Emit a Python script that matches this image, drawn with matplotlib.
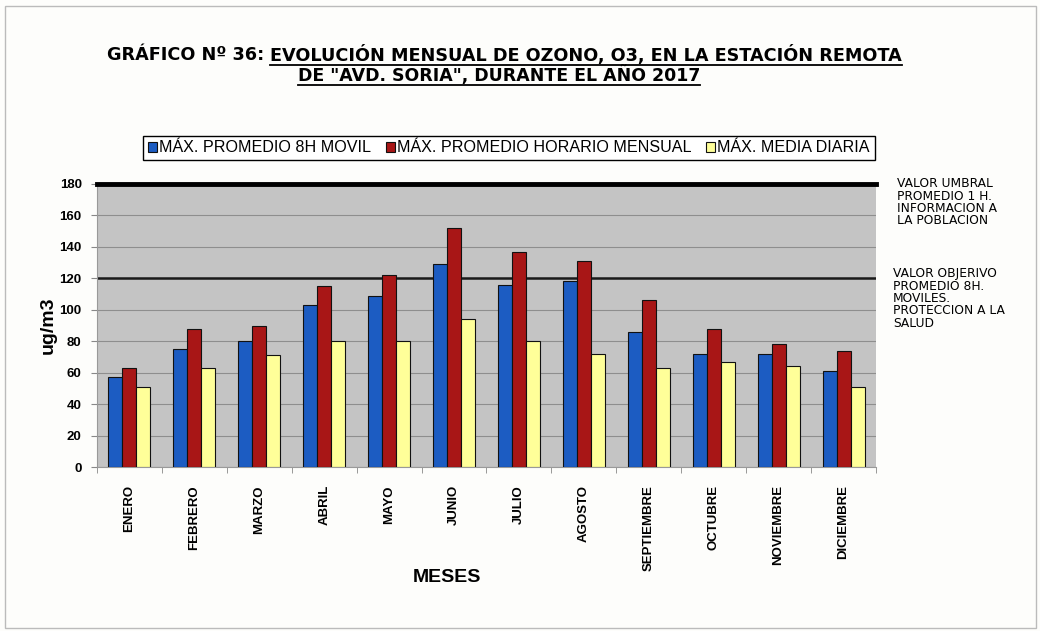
import numpy as np
import matplotlib
matplotlib.use("Agg")
import matplotlib.pyplot as plt
from matplotlib.lines import Line2D
from matplotlib.patches import Rectangle

meses = ["ENERO", "FEBRERO", "MARZO", "ABRIL", "MAYO", "JUNIO", "JULIO",
         "AGOSTO", "SEPTIEMBRE", "OCTUBRE", "NOVIEMBRE", "DICIEMBRE"]
max_8h_movil = [57, 75, 80, 103, 109, 129, 116, 118, 86, 72, 72, 61]
max_horario = [63, 88, 90, 115, 122, 152, 137, 131, 106, 88, 78, 74]
max_media_diaria = [51, 63, 71, 80, 80, 94, 80, 72, 63, 67, 64, 51]
umbral_1h = 180
objetivo_8h = 120
series_labels = ["MÁX. PROMEDIO 8H MOVIL", "MÁX. PROMEDIO HORARIO MENSUAL",
                 "MÁX. MEDIA DIARIA"]
yticks = list(range(0, 181, 20))

FONT = ["Liberation Sans", "DejaVu Sans"]
plt.rcParams["font.family"] = FONT

W, H = 1040, 631
fig = plt.figure(figsize=(W / 100, H / 100), dpi=100)
fig.patch.set_facecolor("#fdfdfb")

ax = fig.add_axes([97 / W, 1 - 467 / H, (876 - 97) / W, (467 - 184) / H])
ax.set_facecolor("#c4c4c4")

x = np.arange(len(meses))
w = 0.216
cols = ["#1c5cc2", "#a81616", "#ffff99"]
for i, (vals, c, lab) in enumerate(zip([max_8h_movil, max_horario, max_media_diaria],
                                       cols, series_labels)):
    ax.bar(x + (i - 1) * w, vals, w, color=c, edgecolor="#111111", linewidth=0.8,
           label=lab, zorder=3)

ax.set_xlim(-0.5, len(meses) - 0.5)
ax.set_ylim(0, 180)
ax.set_yticks(yticks)
ax.yaxis.grid(True, color="#8e8e8e", linewidth=0.8, zorder=1)
ax.set_axisbelow(True)
ax.axhline(umbral_1h, color="black", linewidth=3.5, zorder=4, clip_on=False)
ax.axhline(objetivo_8h, color="#1a1a1a", linewidth=1.8, zorder=2)

ax.set_xticks(x)
ax.set_xticklabels(meses, rotation=90, fontsize=9.5, fontweight="bold")
ax.set_xticks(np.arange(-0.5, len(meses), 1), minor=True)
ax.tick_params(axis="x", which="major", length=0, pad=13)
ax.tick_params(axis="x", which="minor", length=4, color="#888888")
ax.tick_params(axis="y", length=4, color="#888888", labelsize=9.5, pad=7)
for t in ax.get_yticklabels():
    t.set_fontweight("bold")
for s in ["top", "right"]:
    ax.spines[s].set_visible(False)
for s in ["left", "bottom"]:
    ax.spines[s].set_color("#999999")

fig.text(48 / W, 1 - 325 / H, "ug/m3", rotation=90, ha="center", va="center",
         fontsize=14, fontweight="bold")
fig.text(447 / W, 1 - 578 / H, "MESES", ha="center", va="center",
         fontsize=14, fontweight="bold")

leg = ax.legend(loc="center", bbox_to_anchor=(509 / W, 1 - 148 / H),
                bbox_transform=fig.transFigure, ncol=3, frameon=True,
                fancybox=False, edgecolor="black", framealpha=1,
                fontsize=11.6, handlelength=0.55, handleheight=0.55,
                handletextpad=0.15, columnspacing=0.9, borderpad=0.3)
leg.get_frame().set_linewidth(1.0)

side_font = ["DejaVu Sans"]
fig.text(897 / W, 1 - 177 / H,
         "VALOR UMBRAL\nPROMEDIO 1 H.\nINFORMACION A\nLA POBLACION",
         ha="left", va="top", fontsize=8.8, linespacing=0.95, family=side_font)
fig.text(893 / W, 1 - 267 / H,
         "VALOR OBJERIVO\nPROMEDIO 8H.\nMOVILES.\nPROTECCION A LA\nSALUD",
         ha="left", va="top", fontsize=8.8, linespacing=0.95, family=side_font)

# Title with underlined portions (fit to reference widths)
title_font = ["DejaVu Sans"]
r = fig.canvas.get_renderer()
left_part = "GRÁFICO Nº 36: "
right_part = "EVOLUCIÓN MENSUAL DE OZONO, O3, EN LA ESTACIÓN REMOTA"
line2 = 'DE "AVD. SORIA", DURANTE EL AÑO 2017'

probe = fig.text(0, 0, left_part + right_part, fontsize=12, fontweight="bold",
                 family=title_font)
pw = probe.get_window_extent(r).width
probe.remove()
s1 = 12 * (898 - 107) / pw

t1 = fig.text(107 / W, 1 - 55 / H, left_part, ha="left", va="center",
              fontsize=s1, fontweight="bold", family=title_font)
bb1 = t1.get_window_extent(r)
t2 = fig.text(bb1.x1 / W, 1 - 55 / H, right_part, ha="left", va="center",
              fontsize=s1, fontweight="bold", family=title_font)

probe = fig.text(0, 0, line2, fontsize=12, fontweight="bold", family=title_font)
pw2 = probe.get_window_extent(r).width
probe.remove()
s2 = 12 * (700 - 298) / pw2
t3 = fig.text(499 / W, 1 - 75 / H, line2, ha="center", va="center",
              fontsize=s2, fontweight="bold", family=title_font)

for t, yline in [(t2, 64.5), (t3, 84.5)]:
    bb = t.get_window_extent(r)
    fig.add_artist(Line2D([bb.x0 / W, bb.x1 / W], [1 - yline / H, 1 - yline / H],
                          transform=fig.transFigure, color="black", linewidth=1.3))

fig.add_artist(Rectangle((5 / W, 1 - 628 / H), (1036 - 5) / W, (628 - 6) / H,
                         transform=fig.transFigure, fill=False,
                         edgecolor="#bbbbbb", linewidth=1.0))

fig.savefig("out.png", dpi=100, facecolor=fig.get_facecolor())
